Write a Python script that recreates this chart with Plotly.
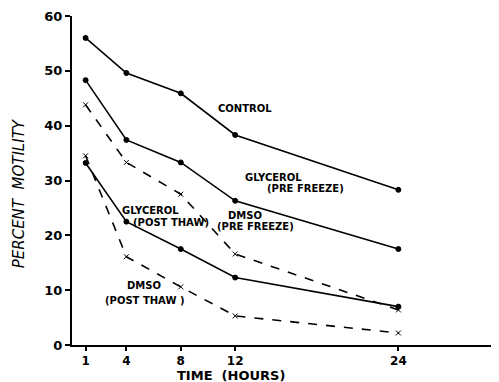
import plotly.graph_objects as go

hours = [1, 4, 8, 12, 24]
control = [56.0, 49.6, 45.9, 38.3, 28.3]
glycerol_pre = [48.3, 37.4, 33.3, 26.3, 17.5]
dmso_pre = [43.8, 33.3, 27.5, 16.6, 6.4]
glycerol_post = [33.2, 22.5, 17.5, 12.3, 7.0]
dmso_post = [34.5, 16.1, 10.6, 5.3, 2.2]

x_ticks = [1, 4, 8, 12, 24]
x_tick_labels = ["1", "4", "8", "12", "24"]
y_ticks = [0, 10, 20, 30, 40, 50, 60]

fig = go.Figure()

def add(y, dash, symbol, name):
    fig.add_trace(go.Scatter(
        x=hours, y=y, mode="lines+markers", name=name,
        line=dict(color="black", width=1.6, dash=dash),
        marker=dict(color="black", symbol=symbol, size=5,
                    line=dict(color="black", width=1)),
        showlegend=False,
    ))

add(control, "solid", "circle", "CONTROL")
add(glycerol_pre, "solid", "circle", "GLYCEROL (PRE FREEZE)")
add(dmso_pre, "dash", "x-thin", "DMSO (PRE FREEZE)")
add(glycerol_post, "solid", "circle", "GLYCEROL (POST THAW)")
add(dmso_post, "dash", "x-thin", "DMSO (POST THAW)")

font = dict(family="DejaVu Sans", size=10, color="black", weight="bold")
labels = [
    ("CONTROL", 12.7, 43.1),
    ("GLYCEROL", 14.8, 30.6),
    ("(PRE FREEZE)", 17.2, 28.5),
    ("DMSO", 12.7, 23.6),
    ("(PRE FREEZE)", 13.5, 21.6),
    ("GLYCEROL", 5.8, 24.5),
    ("(POST THAW)", 7.3, 22.4),
    ("DMSO", 5.3, 10.8),
    ("(POST THAW )", 5.3, 8.2),
]
for text, x, y in labels:
    fig.add_annotation(x=x, y=y, xref="x", yref="y", text=text, showarrow=False,
                       font=font, xanchor="center", yanchor="middle")

fig.add_annotation(x=0.372, y=-0.094, xref="paper", yref="paper", text="TIME  (HOURS)",
                   showarrow=False, xanchor="center", yanchor="middle",
                   font=dict(family="DejaVu Sans", size=13, color="black", weight="bold"))
fig.add_annotation(x=-0.125, y=0.46, xref="paper", yref="paper", text="PERCENT  MOTILITY",
                   showarrow=False, xanchor="center", yanchor="middle", textangle=-90,
                   font=dict(family="DejaVu Sans", size=15, color="black", style="italic"))

# page body adds an 8px offset; size the figure so the plot area lands where the reference has it
fig.update_layout(
    width=491, height=374,
    margin=dict(l=64, r=0, t=8, b=37),
    paper_bgcolor="white", plot_bgcolor="white",
    xaxis=dict(
        range=[0, 31.4], tickvals=x_ticks, ticktext=x_tick_labels, automargin=False,
        showgrid=False, zeroline=False, showline=True, linecolor="black", linewidth=2,
        ticks="outside", ticklen=4, tickwidth=1.5, tickcolor="black",
        tickfont=dict(family="DejaVu Sans", size=12, color="black", weight="bold"),
    ),
    yaxis=dict(
        range=[0, 60], tickvals=y_ticks, automargin=False,
        showgrid=False, zeroline=False, showline=True, linecolor="black", linewidth=2,
        ticks="outside", ticklen=5, tickwidth=1.5, tickcolor="black",
        tickfont=dict(family="DejaVu Sans", size=13, color="black", weight="bold"),
    ),
)

fig.write_html("out.html")
